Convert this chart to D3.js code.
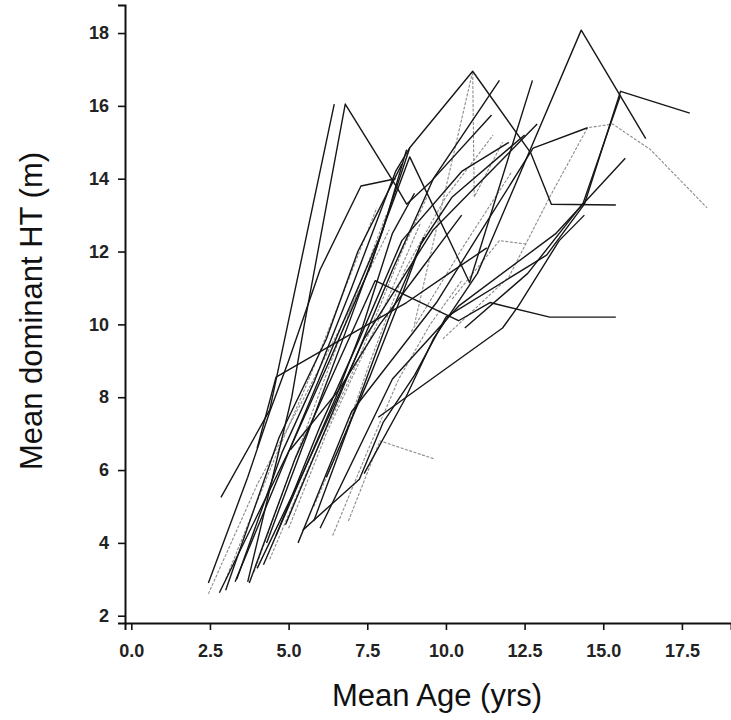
<!DOCTYPE html>
<html>
<head>
<meta charset="utf-8">
<script src="https://cdn.jsdelivr.net/npm/d3@7"></script>
<style>
  body { margin: 0; background: #fff; }
  text { font-family: Arial, "Liberation Sans", sans-serif; }
</style>
</head>
<body>
<div id="chart"></div>
<script>
// mean age (yrs) of each stand at each measurement
const standAges = [
  [2.85, 4.4, 6.45],
  [3.7, 5.1, 5.5, 6.8, 8.45, 8.75, 9.5, 11.45],
  [4.0, 4.6, 6.5, 8.75, 10.1, 11.3],
  [2.8, 5.05, 6.3, 7.6, 8.85, 10.85, 12.7, 13.35, 15.4],
  [3.3, 5.05, 6.6, 7.9, 8.85, 10.75, 12.75],
  [3.75, 5.2, 6.5, 7.75, 10.4, 11.4, 13.3, 15.4],
  [7.85, 11.8, 12.3, 13.6, 14.4],
  [6.9, 7.9, 9.65],
  [5.45, 7.25, 8.0, 9.0, 10.0, 13.2, 14.4, 15.55, 17.75],
  [6.0, 8.3, 10.4, 13.5, 15.7],
  [7.4, 8.7, 9.6, 11.0, 14.3, 16.35],
  [4.0, 5.5, 7.4, 9.6, 12.9],
  [4.9, 6.6, 8.3, 9.6, 11.7],
  [5.3, 7.0, 9.7, 11.0, 12.77, 14.5],
  [9.9, 12.0, 13.3, 14.5, 15.3, 16.5, 18.3],
  [10.6, 12.6, 14.36, 15.55],
  [2.45, 4.0, 5.5, 7.0, 8.2],
  [4.4, 5.6, 7.2, 8.6, 9.4],
  [6.4, 7.5, 8.5, 9.5, 10.5],
  [2.45, 3.7, 4.4, 5.0, 6.0, 7.3, 8.4],
  [3.35, 4.8, 5.8, 7.0, 8.4, 8.85],
  [5.05, 6.6, 7.9, 9.2, 10.5],
  [5.8, 6.8, 7.6, 8.7, 10.0, 11.5],
  [4.2, 5.4, 6.5, 7.3, 8.3, 9.0],
  [3.0, 4.5, 5.6, 6.8, 7.8],
  [4.6, 6.0, 7.2, 8.6, 10.5, 12.0],
  [9.0, 10.85, 10.9, 11.8],
  [10.2, 11.7, 12.6],
  [3.0, 4.7, 6.2, 7.2, 8.6],
  [5.0, 6.2, 7.8, 9.2],
  [5.8, 7.0, 8.2, 9.3],
  [8.9, 10.6, 12.1],
  [6.2, 7.6, 8.6, 9.2, 10.2, 12.5],
  [4.3, 5.6, 6.9, 8.0, 8.75],
  [3.9, 5.2, 6.7, 8.1]
]

// mean dominant height (m) at the same measurements
const standHeights = [
  [5.25, 7.65, 16.05],
  [2.93, 8.0, 10.0, 16.05, 13.75, 13.3, 13.9, 15.75],
  [6.6, 8.55, 9.5, 10.6, 11.4, 12.1],
  [2.63, 6.6, 9.0, 11.6, 14.85, 16.95, 14.7, 13.3, 13.28],
  [2.93, 6.6, 9.8, 12.4, 14.6, 11.15, 16.7],
  [2.9, 6.3, 8.8, 11.2, 10.1, 10.6, 10.2, 10.2],
  [7.45, 9.9, 10.5, 12.3, 13.0],
  [4.6, 6.8, 6.3],
  [4.35, 5.75, 7.3, 8.6, 10.2, 11.9, 13.3, 16.4, 15.8],
  [4.4, 8.5, 10.5, 12.5, 14.56],
  [5.9, 7.95, 9.6, 11.4, 18.08, 15.1],
  [3.3, 6.0, 9.6, 12.6, 15.5],
  [4.5, 8.0, 11.5, 14.0, 16.7],
  [4.0, 7.6, 10.6, 12.4, 14.84, 15.4],
  [9.6, 11.3, 13.5, 15.4, 15.5, 14.8, 13.2],
  [9.9, 11.4, 13.33, 16.3],
  [2.6, 5.6, 8.0, 10.5, 12.6],
  [3.55, 6.0, 9.0, 12.0, 13.5],
  [4.2, 6.5, 8.5, 10.0, 11.2],
  [2.9, 5.8, 7.6, 9.0, 11.5, 13.8, 14.0],
  [3.0, 6.5, 8.4, 11.0, 14.2, 14.85],
  [6.55, 8.2, 10.0, 11.5, 13.0],
  [5.0, 7.0, 9.0, 11.5, 13.5, 15.2],
  [3.4, 5.8, 8.0, 9.8, 12.5, 13.6],
  [3.0, 6.2, 8.4, 11.0, 13.2],
  [4.2, 7.2, 9.5, 12.3, 14.2, 15.0],
  [10.0, 16.95, 13.5, 15.0],
  [10.7, 12.3, 12.2],
  [2.7, 6.9, 9.6, 12.0, 14.4],
  [4.4, 7.0, 10.0, 12.8],
  [4.6, 7.4, 10.2, 12.4],
  [9.8, 12.2, 14.2],
  [5.8, 8.6, 10.8, 12.2, 13.5, 15.2],
  [4.0, 7.0, 10.0, 12.6, 14.8],
  [3.2, 6.3, 9.8, 13.0]
]

// k = dark trace, g = faint grey trace
const standTone = ['k', 'k', 'k', 'k', 'k', 'k', 'k', 'g', 'k', 'k', 'k', 'k', 'k', 'k', 'g', 'k',
  'g', 'g', 'g', 'k', 'k', 'k', 'g', 'k', 'g', 'k', 'g', 'g', 'k', 'g', 'k', 'g', 'k', 'k', 'g']

const xTicks = [0, 2.5, 5, 7.5, 10, 12.5, 15, 17.5]
const yTicks = [2, 4, 6, 8, 10, 12, 14, 16, 18]

const w = 731
const h = 720

const svg = d3.select('#chart').append('svg')
  .attr('width', w)
  .attr('height', h)

const x = d3.scaleLinear().domain([-0.2, 19.06]).range([125, 731])
const y = d3.scaleLinear().domain([1.8, 18.77]).range([623, 5])

const line = d3.line()
  .x(d => x(d[0]))
  .y(d => y(d[1]))

const stands = standAges.map((ages, i) => ({
  tone: standTone[i],
  pts: ages.map((a, j) => [a, standHeights[i][j]])
}))

// grey ones first so the dark traces sit on top
svg.append('g').selectAll('path')
  .data(stands.filter(d => d.tone === 'g'))
  .enter().append('path')
    .attr('d', d => line(d.pts))
    .attr('fill', 'none')
    .attr('stroke', '#8c8c8c')
    .attr('stroke-width', 1.1)
    .attr('stroke-dasharray', '3,1.5')

svg.append('g').selectAll('path')
  .data(stands.filter(d => d.tone === 'k'))
  .enter().append('path')
    .attr('d', d => line(d.pts))
    .attr('fill', 'none')
    .attr('stroke', '#161616')
    .attr('stroke-width', 1.4)
    .attr('stroke-linejoin', 'round')

svg.append('g')
  .attr('transform', 'translate(0,623)')
  .call(d3.axisBottom(x).tickValues(xTicks).tickSizeOuter(0).tickSize(7).tickPadding(14)
    .tickFormat(d3.format('.1f')))

svg.append('g')
  .attr('transform', 'translate(125,0)')
  .call(d3.axisLeft(y).tickValues(yTicks).tickSizeOuter(0).tickSize(7).tickPadding(9))

svg.selectAll('.domain').attr('stroke', '#111').attr('stroke-width', 2)
svg.selectAll('.tick line').attr('stroke', '#111').attr('stroke-width', 1.6)
svg.selectAll('.tick text')
  .attr('font-size', 18)
  .attr('font-weight', 'bold')
  .attr('fill', '#222')
  .style('font-family', 'Arial, "Liberation Sans", sans-serif')

svg.append('text')
  .attr('x', 437)
  .attr('y', 706)
  .attr('text-anchor', 'middle')
  .attr('font-size', 31)
  .attr('fill', '#111')
  .text('Mean Age (yrs)')

svg.append('text')
  .attr('transform', 'translate(42,311) rotate(-90)')
  .attr('text-anchor', 'middle')
  .attr('font-size', 31)
  .attr('fill', '#111')
  .text('Mean dominant HT (m)')
</script>
</body>
</html>
